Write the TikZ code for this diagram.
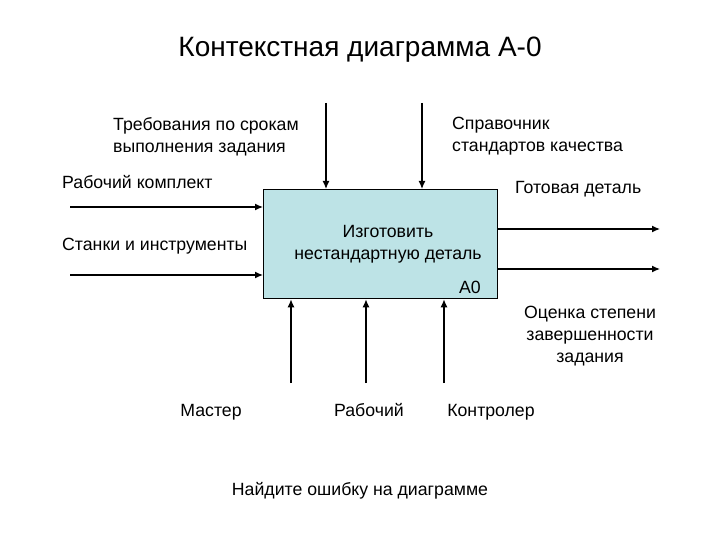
\documentclass[tikz,border=0pt]{standalone}
\usepackage{fontspec}
\setmainfont{Liberation Sans}
\usetikzlibrary{arrows.meta}
\definecolor{boxc}{HTML}{BDE3E6}
\begin{document}
\begin{tikzpicture}[x=1pt,y=-1pt,
  arr/.style={-{Latex[length=8pt,width=7pt]},line width=1.3pt},
  lbl/.style={font=\fontsize{17.7}{22}\selectfont,inner sep=0pt}]
\useasboundingbox (0,0) rectangle (720,540);
\node[draw,fill=boxc,line width=1.3pt,minimum width=234pt,minimum height=109pt,anchor=north west,inner sep=0pt] (box) at (263,189) {};
\node[lbl,align=center] (txt) at (388,244) {Изготовить\\нестандартную деталь};
\node[lbl,anchor=base east] (a0) at (481,293) {A0};
\node[font=\fontsize{28}{32}\selectfont,anchor=base] (title) at (360,57) {Контекстная диаграмма А-0};
% top
\coordinate (t1) at (326,103); \coordinate (t2) at (422,103);
\draw[arr] (t1) -- (t1 |- box.north);
\draw[arr] (t2) -- (t2 |- box.north);
\node[lbl,align=left,anchor=north west] (lt1) at (113,117) {Требования по срокам\\выполнения задания};
\node[lbl,align=left,anchor=north west] (lt2) at (452,117) {Справочник\\стандартов качества};
% left
\coordinate (l1) at (70,207); \coordinate (l2) at (70,275);
\draw[arr] (l1) -- (l1 -| box.west);
\draw[arr] (l2) -- (l2 -| box.west);
\node[lbl,anchor=base west] (ll1) at (62,189) {Рабочий комплект};
\node[lbl,anchor=base west] (ll2) at (62,251) {Станки и инструменты};
% right
\coordinate (r1) at (660,229); \coordinate (r2) at (660,269);
\draw[arr] (r1 -| box.east) -- (r1);
\draw[arr] (r2 -| box.east) -- (r2);
\node[lbl,anchor=base west] (lr1) at (515,194) {Готовая деталь};
\node[lbl,align=center] (lr2) at (590,336) {Оценка степени\\завершенности\\задания};
% bottom
\coordinate (b1) at (291,383); \coordinate (b2) at (366,383); \coordinate (b3) at (444,383);
\draw[arr] (b1) -- (b1 |- box.south);
\draw[arr] (b2) -- (b2 |- box.south);
\draw[arr] (b3) -- (b3 |- box.south);
\node[lbl,anchor=base] (lb1) at (211,416) {Мастер};
\node[lbl,anchor=base] (lb2) at (369,416) {Рабочий};
\node[lbl,anchor=base] (lb3) at (491,416) {Контролер};
\node[lbl,anchor=base] (foot) at (360,495) {Найдите ошибку на диаграмме};
\end{tikzpicture}
\end{document}
